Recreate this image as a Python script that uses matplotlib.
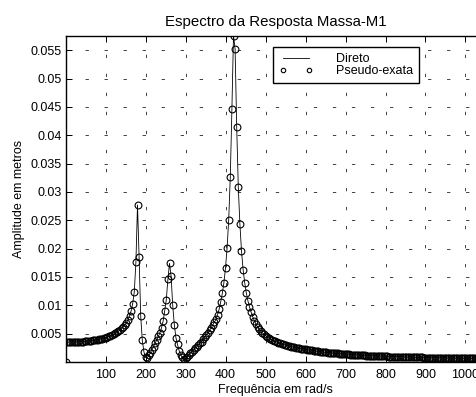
import numpy as np
import matplotlib
matplotlib.use("Agg")
import matplotlib.pyplot as plt

plt.rcParams['font.family'] = ['Liberation Sans', 'DejaVu Sans']
plt.rcParams['font.size'] = 9
plt.rcParams['lines.scale_dashes'] = False

# Frequency grid spacing (rad/s)
freq_step = 4

# Amplitude of mass M1 (m), one value per frequency step from 0 rad/s
amplitude = [
    # 0 - 96
    0.0, 0.00350, 0.00350, 0.00350, 0.00351, 0.00352, 0.00353, 0.00354, 0.00355,
    0.00357, 0.00359, 0.00361, 0.00363, 0.00366, 0.00369, 0.00372, 0.00376,
    0.00380, 0.00384, 0.00389, 0.00394, 0.00400, 0.00406, 0.00413, 0.00421,
    # 100 - 196
    0.00430, 0.00440, 0.00451, 0.00463, 0.00477, 0.00492, 0.00508, 0.00525,
    0.00545, 0.00567, 0.00592, 0.00620, 0.00652, 0.00690, 0.00740, 0.00810,
    0.00900, 0.01030, 0.01240, 0.01760, 0.02770, 0.01850, 0.00810, 0.00380,
    0.00180,
    # 200 - 296
    0.00080, 0.00070, 0.00115, 0.00165, 0.00215, 0.00270, 0.00330, 0.00390,
    0.00450, 0.00515, 0.00600, 0.00720, 0.00900, 0.01100, 0.01460, 0.01740,
    0.01510, 0.01000, 0.00660, 0.00430, 0.00310, 0.00200, 0.00130, 0.00080,
    0.00050,
    # 300 - 396
    0.00065, 0.00090, 0.00120, 0.00150, 0.00180, 0.00210, 0.00240, 0.00270,
    0.00300, 0.00330, 0.00360, 0.00400, 0.00440, 0.00480, 0.00520, 0.00560,
    0.00600, 0.00650, 0.00700, 0.00750, 0.00830, 0.00930, 0.01060, 0.01210,
    0.01400,
    # 400 - 496
    0.01660, 0.02010, 0.02510, 0.03270, 0.04460, 0.05760, 0.05520, 0.04150,
    0.03080, 0.02430, 0.01960, 0.01630, 0.01400, 0.01220, 0.01080, 0.00970,
    0.00880, 0.00800, 0.00730, 0.00670, 0.00620, 0.00580, 0.00545, 0.00515,
    0.00490,
    # 500 - 596
    0.00467, 0.00446, 0.00427, 0.00410, 0.00394, 0.00379, 0.00366, 0.00353,
    0.00342, 0.00331, 0.00321, 0.00312, 0.00303, 0.00295, 0.00287, 0.00280,
    0.00273, 0.00266, 0.00260, 0.00254, 0.00248, 0.00243, 0.00238, 0.00233,
    0.00228,
    # 600 - 696
    0.00224, 0.00219, 0.00214, 0.00209, 0.00204, 0.00200, 0.00196, 0.00192,
    0.00188, 0.00184, 0.00180, 0.00177, 0.00173, 0.00170, 0.00167, 0.00164,
    0.00161, 0.00158, 0.00155, 0.00152, 0.00150, 0.00147, 0.00145, 0.00142,
    0.00140,
    # 700 - 796
    0.00138, 0.00136, 0.00134, 0.00132, 0.00130, 0.00128, 0.00126, 0.00124,
    0.00122, 0.00121, 0.00119, 0.00117, 0.00116, 0.00114, 0.00113, 0.00111,
    0.00110, 0.00108, 0.00107, 0.00106, 0.00104, 0.00103, 0.00102, 0.00101,
    0.00100,
    # 800 - 896
    0.00099, 0.00098, 0.00097, 0.00096, 0.00095, 0.00094, 0.00093, 0.00092,
    0.00091, 0.00090, 0.00089, 0.00088, 0.00088, 0.00087, 0.00086, 0.00085,
    0.00085, 0.00084, 0.00083, 0.00082, 0.00082, 0.00081, 0.00080, 0.00080,
    0.00079,
    # 900 - 996
    0.00078, 0.00078, 0.00077, 0.00077, 0.00076, 0.00075, 0.00075, 0.00074,
    0.00074, 0.00073, 0.00073, 0.00072, 0.00072, 0.00071, 0.00071, 0.00070,
    0.00070, 0.00069, 0.00069, 0.00068, 0.00068, 0.00068, 0.00067, 0.00067,
    0.00066,
    # 1000 - 1048
    0.00066, 0.00066, 0.00065, 0.00065, 0.00064, 0.00064, 0.00064, 0.00063,
    0.00063, 0.00063, 0.00062, 0.00062, 0.00062,
]

freq = np.arange(len(amplitude)) * freq_step

x_ticks = [100, 200, 300, 400, 500, 600, 700, 800, 900, 1000]
y_ticks = [0.005, 0.01, 0.015, 0.02, 0.025, 0.03, 0.035, 0.04, 0.045, 0.05, 0.055]

W, H = 477, 397
fig = plt.figure(figsize=(W / 100, H / 100), dpi=100)
ax = fig.add_axes([65.5 / W, 35 / H, 420 / W, 326.5 / H])

ax.plot(freq, amplitude, color='k', lw=0.6, label='Direto')
ax.plot(freq, amplitude, ls='none', marker='o', ms=4.9, mfc='none',
        mec='k', mew=0.8, label='Pseudo-exata')

ax.set_xlim(0, 1050)
ax.set_ylim(0, max(amplitude))
ax.set_xticks(x_ticks)
ax.set_xticklabels([f"{v:g}" for v in x_ticks])
ax.set_yticks(y_ticks)
ax.set_yticklabels([f"{v:g}" for v in y_ticks])

ax.tick_params(direction='in', top=True, right=True, length=4, width=0.7,
               colors='k')
ax.tick_params(axis='x', pad=5)
ax.tick_params(axis='y', pad=2.5)
for sp in ax.spines.values():
    sp.set_linewidth(1.0)

ax.grid(True, color='#222222', lw=0.6, ls=(0, (2.4, 11.3)))

ax.set_title('Espectro da Resposta Massa-M1', pad=7)
ax.set_xlabel('Frequência em rad/s', labelpad=2)
ax.set_ylabel('Amplitude em metros', labelpad=4)

leg = ax.legend(loc='upper left', bbox_to_anchor=(273 / W, 1 - 46.7 / H),
                bbox_transform=fig.transFigure, borderaxespad=0,
                numpoints=2, markerscale=0.65, handlelength=2.65,
                handletextpad=1.9, labelspacing=0.0, borderpad=0.5,
                fancybox=False, framealpha=1, edgecolor='k')
leg.get_frame().set_linewidth(1.0)

fig.savefig('out.png', dpi=100)
